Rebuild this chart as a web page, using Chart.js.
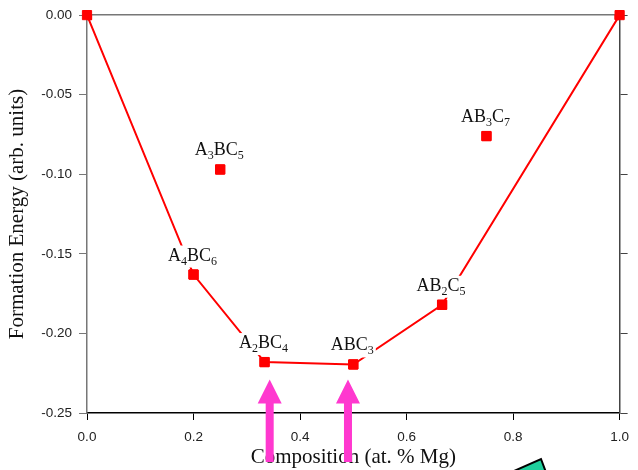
<!DOCTYPE html>
<html>
<head>
<meta charset="utf-8">
<script src="https://cdn.jsdelivr.net/npm/chart.js@4/dist/chart.umd.min.js"></script>
<style>
  html, body { margin: 0; padding: 0; background: #fff; }
  #wrap { width: 638px; height: 470px; }
</style>
</head>
<body>
<div id="wrap"><canvas id="hullChart" width="638" height="470"></canvas></div>
<script>
// Convex hull points (composition, formation energy)
const hullX = [0, 0.2, 1 / 3, 0.5, 2 / 3, 1];
const hullY = [0, -0.163, -0.218, -0.2195, -0.182, 0];
const hullNames = ['', 'A4BC6', 'A2BC4', 'ABC3', 'AB2C5', ''];

// Structures above the hull
const offX = [0.25, 0.75];
const offY = [-0.097, -0.076];
const offNames = ['A3BC5', 'AB3C7'];

// Axis ticks
const xTicks = [0, 0.2, 0.4, 0.6, 0.8, 1.0];
const yTicks = [0, -0.05, -0.10, -0.15, -0.20, -0.25];

// Arrows pointing at the hull (composition, energy at the tip)
const arrowX = [0.343, 0.49];
const arrowTipY = -0.229;

const RED = '#ff0000';
const PINK = '#ff38cf';

function toPoints(xs, ys) {
  return xs.map((x, i) => ({ x: x, y: ys[i] }));
}

// draw "A4BC6" style names with digits as subscripts
function drawFormula(ctx, text, cx, baseY) {
  const big = '18px "Liberation Serif", "Times New Roman", serif';
  const small = '12px "Liberation Serif", "Times New Roman", serif';
  const parts = text.match(/[A-Za-z]+|\d+/g);
  let width = 0;
  parts.forEach(p => {
    ctx.font = /\d/.test(p) ? small : big;
    width += ctx.measureText(p).width;
  });
  let x = cx - width / 2;
  ctx.fillStyle = '#fff';
  ctx.fillRect(x - 2, baseY - 15, width + 4, 22);
  ctx.fillStyle = '#111';
  ctx.textBaseline = 'alphabetic';
  ctx.textAlign = 'left';
  parts.forEach(p => {
    const sub = /\d/.test(p);
    ctx.font = sub ? small : big;
    ctx.fillText(p, x, sub ? baseY + 4 : baseY);
    x += ctx.measureText(p).width;
  });
}

const labelPlugin = {
  id: 'phaseLabels',
  afterDatasetsDraw(chart) {
    const ctx = chart.ctx;
    ctx.save();
    [hullNames, offNames].forEach((names, di) => {
      chart.getDatasetMeta(di).data.forEach((pt, i) => {
        if (!names[i]) return;
        drawFormula(ctx, names[i], pt.x - 1, pt.y - 14);
      });
    });
    // redraw markers over the label boxes
    chart.getDatasetMeta(0).data.forEach(pt => pt.draw(ctx));
    chart.getDatasetMeta(1).data.forEach(pt => pt.draw(ctx));
    ctx.restore();
  },
  afterDraw(chart) {
    const ctx = chart.ctx;
    const xs = chart.scales.x, ys = chart.scales.y;
    ctx.save();
    // pink arrows
    ctx.fillStyle = PINK;
    arrowX.forEach(v => {
      const px = xs.getPixelForValue(v);
      const tip = ys.getPixelForValue(arrowTipY);
      ctx.beginPath();
      ctx.moveTo(px, tip);
      ctx.lineTo(px + 12, tip + 24);
      ctx.lineTo(px + 4, tip + 24);
      ctx.lineTo(px + 4, chart.height - 8);
      ctx.lineTo(px - 4, chart.height - 8);
      ctx.lineTo(px - 4, tip + 24);
      ctx.lineTo(px - 12, tip + 24);
      ctx.closePath();
      ctx.fill();
    });
    // corner of the green box peeking in at the bottom
    ctx.beginPath();
    ctx.moveTo(541, 459);
    ctx.lineTo(547, 475);
    ctx.lineTo(505, 475);
    ctx.closePath();
    ctx.fillStyle = '#1fcf9c';
    ctx.fill();
    ctx.lineWidth = 2;
    ctx.strokeStyle = '#000';
    ctx.stroke();
    ctx.restore();
  }
};

const tickFont = { family: '"Liberation Sans", Arial, sans-serif', size: 13.5 };
const titleFont = { family: '"Liberation Serif", "Times New Roman", serif', size: 21 };

new Chart(document.getElementById('hullChart'), {
  type: 'scatter',
  data: {
    datasets: [{
      label: 'hull',
      data: toPoints(hullX, hullY),
      showLine: true,
      borderColor: RED,
      borderWidth: 2,
      backgroundColor: RED,
      pointStyle: 'rect',
      pointRadius: 6.5,
      pointBorderWidth: 1,
      pointBorderColor: RED,
      tension: 0
    }, {
      label: 'above hull',
      data: toPoints(offX, offY),
      showLine: false,
      backgroundColor: RED,
      pointStyle: 'rect',
      pointRadius: 6.5,
      pointBorderWidth: 1,
      pointBorderColor: RED
    }]
  },
  options: {
    responsive: false,
    animation: false,
    layout: { padding: 0 },
    plugins: {
      legend: { display: false },
      tooltip: { enabled: false }
    },
    scales: {
      x: {
        type: 'linear',
        position: 'bottom',
        min: 0,
        max: 1,
        afterBuildTicks: axis => { axis.ticks = xTicks.map(v => ({ value: v })); },
        afterFit: axis => { axis.height = 57; },
        ticks: {
          font: tickFont,
          color: '#222',
          padding: 9,
          maxRotation: 0,
          callback: v => v.toFixed(1)
        },
        grid: { drawOnChartArea: false, tickLength: 7, color: '#000', tickWidth: 1 },
        border: { color: '#000', width: 1.5 },
        title: {
          display: true,
          text: 'Composition (at. % Mg)',
          font: titleFont,
          color: '#111',
          padding: { top: 0, bottom: 0 }
        }
      },
      x2: {
        type: 'linear',
        position: 'top',
        min: 0,
        max: 1,
        ticks: { display: false },
        grid: { drawOnChartArea: false, drawTicks: false },
        border: { color: '#777', width: 1.5 },
        afterFit: axis => { axis.height = 12; }
      },
      y: {
        type: 'linear',
        position: 'left',
        min: -0.25,
        max: 0,
        afterBuildTicks: axis => { axis.ticks = yTicks.map(v => ({ value: v })); },
        afterFit: axis => { axis.width = 87; },
        ticks: {
          font: tickFont,
          color: '#222',
          padding: 7,
          callback: v => v.toFixed(2)
        },
        grid: { drawOnChartArea: false, tickLength: 8, color: '#777' },
        border: { color: '#777', width: 1.5 },
        title: {
          display: true,
          text: 'Formation Energy (arb. units)',
          font: titleFont,
          color: '#111',
          padding: { top: 5, bottom: 0 }
        }
      },
      y2: {
        type: 'linear',
        position: 'right',
        min: -0.25,
        max: 0,
        afterBuildTicks: axis => { axis.ticks = yTicks.map(v => ({ value: v })); },
        afterFit: axis => { axis.width = 17; },
        ticks: { display: false },
        grid: { drawOnChartArea: false, tickLength: 8, color: '#444' },
        border: { color: '#444', width: 1.5 }
      }
    }
  },
  plugins: [labelPlugin]
});
</script>
</body>
</html>
